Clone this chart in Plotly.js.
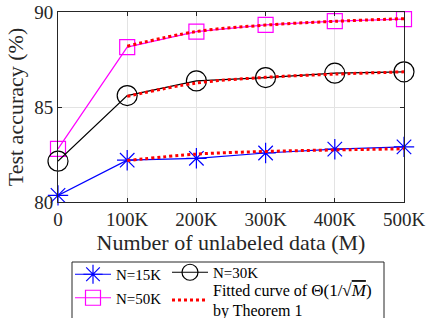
<!DOCTYPE html>
<html><head><meta charset="utf-8">
<script src="https://cdn.plot.ly/plotly-3.0.1.min.js"></script>
<style>html,body{margin:0;padding:0;background:#fff}#chart{width:427px;height:318px}</style>
</head><body><div id="chart"></div>
<script>
const xVals = [0, 100000, 200000, 300000, 400000, 500000];
const tickLabels = ['0', '100K', '200K', '300K', '400K', '500K'];
const acc15K = [80.35, 82.2, 82.3, 82.58, 82.78, 82.9];
const acc30K = [82.15, 85.6, 86.37, 86.55, 86.78, 86.85];
const acc50K = [82.8, 88.15, 88.97, 89.32, 89.52, 89.63];
const fitX = [100000, 200000, 300000, 400000, 500000];
const fit15K = [82.18, 82.52, 82.66, 82.74, 82.8];
const fit30K = [85.56, 86.26, 86.56, 86.73, 86.85];
const fit50K = [88.2, 88.97, 89.31, 89.51, 89.65];
const seriesNames = ['N=15K', 'N=30K', 'N=50K',
  '<span style="font-size:16px">Fitted curve of </span><span style="font-size:17px">Θ(1/√<span style="text-decoration:overline"><i>M</i></span>)</span><br><span style="font-size:16px">by Theorem 1</span>'];

const font = 'Liberation Serif, Times New Roman, serif';
const axCol = '#262626';
const red = '#ff0000';
const fitStyle = {color: red, width: 3, dash: 'dot', shape: 'spline'};

const traces = [
  {x: xVals, y: acc15K, name: seriesNames[0], mode: 'lines+markers', cliponaxis: false,
   line: {color: '#0000ff', width: 1.2}, marker: {symbol: 'asterisk-open', size: 17, line: {color: '#0000ff', width: 1.2}},
   legend: 'legend', legendgroup: 'a'},
  {x: xVals, y: acc50K, name: seriesNames[2], mode: 'lines+markers', cliponaxis: false,
   line: {color: '#ff00ff', width: 1.2}, marker: {symbol: 'square-open', size: 15, color: '#ff00ff', line: {color: '#ff00ff', width: 1.2}},
   legend: 'legend', legendgroup: 'b'},
  {x: xVals, y: acc30K, name: seriesNames[1], mode: 'lines+markers', cliponaxis: false,
   line: {color: '#000000', width: 1.2}, marker: {symbol: 'circle-open', size: 20, color: '#000000', line: {color: '#000000', width: 1.2}},
   legend: 'legend2', legendgroup: 'c'},
  {x: fitX, y: fit15K, name: seriesNames[3], mode: 'lines', line: fitStyle, legend: 'legend3', legendgroup: 'd', showlegend: true},
  {x: fitX, y: fit30K, name: seriesNames[3], mode: 'lines', line: fitStyle, legend: 'legend3', legendgroup: 'd', showlegend: false},
  {x: fitX, y: fit50K, name: seriesNames[3], mode: 'lines', line: fitStyle, legend: 'legend3', legendgroup: 'd', showlegend: false}
];

const W = 427, H = 318, mL = 58, mR = 23, mT = 12, mB = 116;
const pw = W - mL - mR, ph = H - mT - mB;
const px = v => (v - mL) / pw;
const py = v => (H - mB - v) / ph;

const legendCommon = {
  font: {family: font, size: 15, color: '#000'}, bgcolor: 'rgba(0,0,0,0)', borderwidth: 0,
  xanchor: 'left', yanchor: 'top', orientation: 'v', tracegroupgap: 1, itemwidth: 36
};

const layout = {
  width: W, height: H,
  margin: {l: mL, r: mR, t: mT, b: mB, autoexpand: false},
  paper_bgcolor: '#fff', plot_bgcolor: '#fff',
  font: {family: font, color: axCol},
  xaxis: {range: [0, 500000], tickvals: xVals, ticktext: tickLabels, ticks: 'inside', ticklen: 4,
    tickcolor: axCol, showline: true, linecolor: axCol, linewidth: 1, mirror: 'ticks', zeroline: false,
    showgrid: true, gridcolor: '#e3e3e3', tickfont: {family: font, size: 19, color: axCol},
    title: {text: 'Number of unlabeled data (M)', font: {family: font, size: 22, color: axCol}, standoff: 4}},
  yaxis: {range: [80, 90], tickvals: [80, 85, 90], ticks: 'inside', ticklen: 4,
    tickcolor: axCol, showline: true, linecolor: axCol, linewidth: 1, mirror: 'ticks', zeroline: false,
    showgrid: true, gridcolor: '#e3e3e3', tickfont: {family: font, size: 19, color: axCol},
    title: {text: 'Test accuracy (%)', font: {family: font, size: 22, color: axCol}, standoff: 4}},
  showlegend: true,
  legend: Object.assign({}, legendCommon, {x: px(70), y: py(258)}),
  legend2: Object.assign({}, legendCommon, {x: px(167), y: py(256)}),
  legend3: Object.assign({}, legendCommon, {x: px(167), y: py(274)}),
  shapes: [{type: 'rect', xref: 'paper', yref: 'paper', x0: px(72), x1: px(384), y0: py(262), y1: py(330),
    line: {color: axCol, width: 1}, fillcolor: 'rgba(0,0,0,0)'}]
};

Plotly.newPlot('chart', traces, layout, {staticPlot: true, displayModeBar: false});
</script></body></html>
